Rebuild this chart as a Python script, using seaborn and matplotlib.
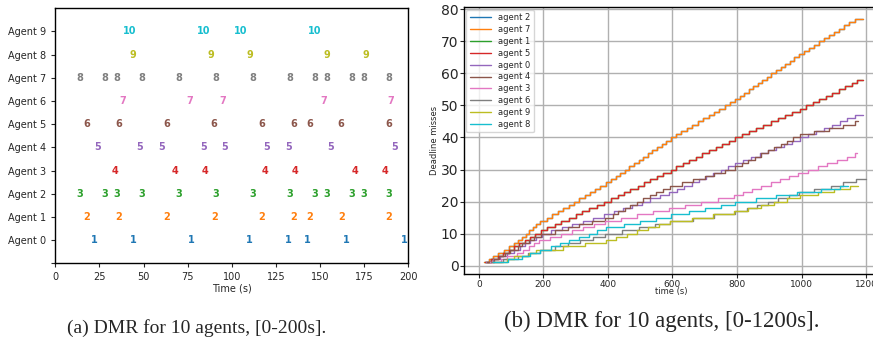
import pandas as pd
import numpy as np
import matplotlib
matplotlib.use('Agg')
import matplotlib.pyplot as plt
import seaborn as sns

# (a) времена пропусков дедлайна на [0-200 s], по агентам
agent_labels = ['Agent %d' % i for i in range(10)]
t_agent0 = [22, 44, 77, 110, 132, 143, 165, 198]
t_agent1 = [18, 36, 63, 90, 117, 135, 144, 162, 189]
t_agent2 = [14, 28, 35, 49, 70, 91, 112, 133, 147, 154, 168, 175, 189]
t_agent3 = [34, 68, 85, 119, 136, 170, 187]
t_agent4 = [24, 48, 60, 84, 96, 120, 132, 156, 192]
t_agent5 = [18, 36, 63, 90, 117, 135, 144, 162, 189]
t_agent6 = [38, 76, 95, 152, 190]
t_agent7 = [14, 28, 35, 49, 70, 91, 112, 133, 147, 154, 168, 175, 189]
t_agent8 = [44, 88, 110, 154, 176]
t_agent9 = [42, 84, 105, 147]
short_times = [t_agent0, t_agent1, t_agent2, t_agent3, t_agent4,
               t_agent5, t_agent6, t_agent7, t_agent8, t_agent9]

# (b) моменты пропусков на [0-1200 s] (счётчик +1 в каждый момент)
miss_agent2 = [15, 30, 45, 60, 78, 95, 108, 120, 133, 147, 155, 168, 176, 190,
               212, 228, 245, 262, 278, 295, 310, 328, 345, 360, 377, 395,
               410, 424, 438, 452, 466, 480, 495, 510, 524, 538, 552, 567, 581, 595,
               612, 628, 645, 662, 678, 695, 712, 728, 745, 762, 778, 795,
               808, 822, 836, 850, 864, 878, 893, 907, 921, 935, 950, 964, 978, 993,
               1008, 1023, 1038, 1054, 1070, 1085, 1100, 1116, 1132, 1148, 1165]
miss_agent7 = miss_agent2
miss_agent1 = [20, 38, 58, 75, 92, 110, 125, 142, 160, 175, 192,
               212, 235, 255, 278, 300, 320, 342, 365, 388,
               410, 430, 450, 470, 492, 512, 532, 552, 572, 594,
               612, 632, 652, 672, 692, 712, 734, 754, 774, 795,
               815, 838, 860, 882, 905, 927, 950, 972, 995,
               1015, 1035, 1055, 1075, 1095, 1115, 1135, 1155, 1172]
miss_agent5 = miss_agent1
miss_agent0 = [22, 44, 66, 88, 110, 128, 143, 160, 178, 196,
               225, 258, 290, 322, 355, 388,
               420, 448, 476, 505, 532, 560, 588,
               615, 637, 660, 682, 704, 727, 750, 772, 794,
               820, 845, 870, 895, 920, 945, 970, 995,
               1020, 1045, 1070, 1095, 1118, 1140, 1165]
miss_agent4 = [25, 48, 62, 80, 97, 120, 135, 155, 172, 193,
               235, 275, 310, 350, 390,
               415, 432, 452, 470, 490, 510, 530, 550, 572, 593,
               630, 665, 700, 730, 762, 795,
               815, 835, 855, 875, 895, 915, 935, 955, 975, 995,
               1040, 1085, 1130, 1165]
miss_agent3 = [35, 68, 88, 119, 136, 155, 170, 187,
               220, 255, 290, 322, 356, 390,
               440, 490, 540, 590, 640, 690, 740, 790,
               820, 848, 876, 904, 932, 960, 990,
               1020, 1050, 1080, 1110, 1140, 1165]
miss_agent6 = [38, 76, 120, 152, 190, 235, 275, 315, 355, 392,
               445, 495, 545, 592, 665, 730, 795,
               830, 862, 895, 928, 960, 993, 1040, 1090, 1130, 1170]
miss_agent9 = [44, 88, 110, 154, 176, 260, 330, 395,
               425, 458, 490, 525, 558, 592, 660, 725, 792,
               835, 875, 915, 955, 995, 1050, 1100, 1150]
miss_agent8 = [45, 90, 135, 160, 190, 225, 250, 280, 310, 340, 365, 395,
               450, 500, 550, 595, 650, 700, 750, 795,
               860, 920, 985, 1060, 1120]

legend_order = ['agent 2', 'agent 7', 'agent 1', 'agent 5', 'agent 0',
                'agent 4', 'agent 3', 'agent 6', 'agent 9', 'agent 8']
long_misses = [miss_agent2, miss_agent7, miss_agent1, miss_agent5, miss_agent0,
               miss_agent4, miss_agent3, miss_agent6, miss_agent9, miss_agent8]
end_times = [1190, 1190, 1190, 1190, 1190, 1176, 1172, 1199, 1176, 1145]

rows = []
for name, ts, t_end in zip(legend_order, long_misses, end_times):
    for k, t in enumerate(ts):
        rows.append((name, t, k + 1))
    rows.append((name, t_end, len(ts)))
df = pd.DataFrame(rows, columns=['agent', 'time', 'misses'])

sns.set_theme(style='white')
plt.rcParams['font.family'] = ['DejaVu Sans']
colors = sns.color_palette('tab10', 10)

fig = plt.figure(figsize=(8.73, 3.48), dpi=100)

# --- (a) ---
ax1 = fig.add_axes([0.0633, 0.2434, 0.4044, 0.7328])
for i, ts in enumerate(short_times):
    for t in ts:
        ax1.text(t, i, str(i + 1), color=colors[i], fontsize=7, fontweight='bold',
                 ha='center', va='center')
ax1.set_xlim(0, 200)
ax1.set_ylim(-1, 10)
ax1.set_yticks(range(-1, 10))
ax1.set_yticklabels([''] + agent_labels)
ax1.set_xticks(range(0, 201, 25))
ax1.tick_params(labelsize=7, length=3, width=0.8, direction='out', left=True, bottom=True)
ax1.set_xlabel('Time (s)', fontsize=7, labelpad=1)
for s in ax1.spines.values():
    s.set_color('black')
    s.set_linewidth(1)

# --- (b) ---
ax2 = fig.add_axes([0.5315, 0.2118, 0.4742, 0.768])
sns.lineplot(data=df, x='time', y='misses', hue='agent', hue_order=legend_order,
             palette=colors, drawstyle='steps-post', linewidth=1, ax=ax2,
             estimator=None)
ax2.set_xlim(-46, 1237)
ax2.set_ylim(-2.7, 80.7)
ax2.set_xticks(range(0, 1201, 200))
ax2.set_yticks(range(0, 81, 10))
ax2.grid(True, color='#b0b0b0', linewidth=1)
ax2.tick_params(axis='y', labelsize=10, length=3, width=0.8, left=True, pad=1)
ax2.tick_params(axis='x', labelsize=6.5, length=3, width=0.8, bottom=True, pad=1)
ax2.set_xlabel('time (s)', fontsize=6, labelpad=-1)
ax2.set_ylabel('Deadline misses', fontsize=6, labelpad=1)
for s in ax2.spines.values():
    s.set_color('black')
    s.set_linewidth(1)
sns.move_legend(ax2, 'upper left', title=None, fontsize=6, frameon=True,
                borderaxespad=0.3, handlelength=2.6, labelspacing=0.35,
                borderpad=0.4)

fig.text(0.225, 0.058, '(a) DMR for 10 agents, [0-200s].', ha='center', va='center',
         fontsize=14, family='Liberation Serif')
fig.text(0.758, 0.075, '(b) DMR for 10 agents, [0-1200s].', ha='center', va='center',
         fontsize=16.5, family='Liberation Serif')

fig.savefig('out.png', dpi=100)
